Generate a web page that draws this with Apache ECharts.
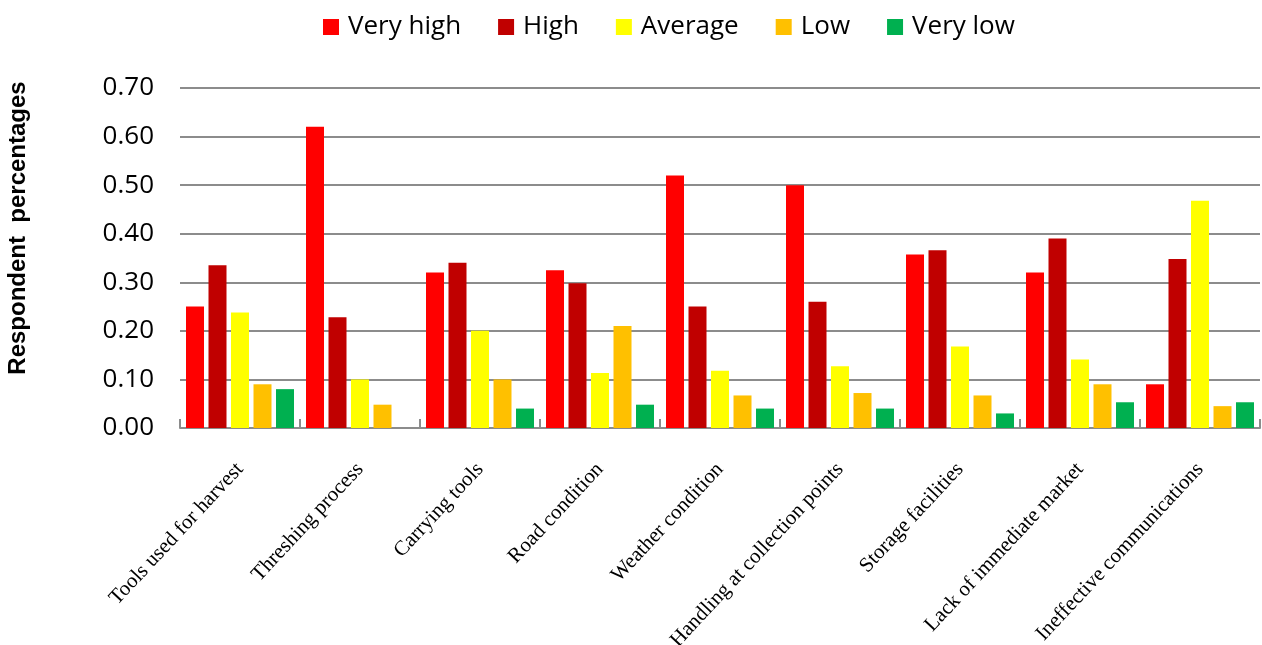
<!DOCTYPE html>
<html>
<head>
<meta charset="utf-8">
<script src="https://cdn.jsdelivr.net/npm/echarts@6/dist/echarts.min.js"></script>
<style>
  html, body { margin: 0; padding: 0; background: #fff; }
  #chart { width: 1262px; height: 645px; }
</style>
</head>
<body>
<div id="chart"></div>
<script>
// categories and ratings
const categories = [
  'Tools used for harvest', 'Threshing process', 'Carrying tools', 'Road condition',
  'Weather condition', 'Handling at collection points', 'Storage facilities',
  'Lack of immediate market', 'Ineffective communications'
]
const veryHigh = [0.25, 0.62, 0.32, 0.325, 0.52, 0.50, 0.357, 0.32, 0.09]
const high     = [0.335, 0.228, 0.34, 0.298, 0.25, 0.26, 0.366, 0.39, 0.348]
const average  = [0.238, 0.10, 0.20, 0.113, 0.118, 0.127, 0.168, 0.141, 0.468]
const low      = [0.09, 0.048, 0.10, 0.21, 0.067, 0.072, 0.067, 0.09, 0.045]
const veryLow  = [0.08, 0, 0.04, 0.048, 0.04, 0.04, 0.03, 0.053, 0.053]

const seriesNames = ['Very high', 'High', 'Average', 'Low', 'Very low']
const seriesColors = ['#ff0000', '#c00000', '#ffff00', '#ffc000', '#00b050']
const seriesData = [veryHigh, high, average, low, veryLow]

const chart = echarts.init(document.getElementById('chart'))

const option = {
  animation: false,
  legend: {
    top: 9,
    left: 318,
    itemWidth: 16,
    itemHeight: 16,
    itemGap: 37,
    icon: 'rect',
    textStyle: {
      fontFamily: 'Open Sans',
      fontSize: 26,
      color: '#000',
      padding: [0, 0, 0, 4]
    },
    data: seriesNames
  },
  grid: {
    left: 180,
    right: 2,
    top: 88,
    bottom: 217,
    outerBoundsMode: 'none'
  },
  xAxis: {
    type: 'category',
    data: categories,
    axisLine: { lineStyle: { color: '#8c8c8c', width: 2 } },
    axisTick: { show: true, inside: true, length: 9, interval: 0, lineStyle: { color: '#8c8c8c', width: 2 } },
    axisLabel: {
      interval: 0,
      rotate: 47,
      margin: 38,
      fontFamily: 'Liberation Serif',
      fontSize: 21,
      color: '#000'
    }
  },
  yAxis: {
    type: 'value',
    min: 0,
    max: 0.7,
    interval: 0.1,
    name: 'Respondent  percentages',
    nameLocation: 'middle',
    nameGap: 150,
    nameTextStyle: {
      fontFamily: 'Liberation Sans',
      fontSize: 24,
      fontWeight: 'bold',
      color: '#000',
      padding: [0, 0, 0, 60]
    },
    axisLine: { show: false },
    axisTick: { show: false },
    axisLabel: {
      margin: 26,
      fontFamily: 'Open Sans',
      fontSize: 26,
      color: '#000',
      formatter: v => v.toFixed(2)
    },
    splitLine: { lineStyle: { color: '#8c8c8c', width: 2 } }
  },
  series: seriesNames.map((name, i) => ({
    name: name,
    type: 'bar',
    data: seriesData[i],
    barGap: '25%',
    barCategoryGap: '10%',
    itemStyle: { color: seriesColors[i] }
  }))
}

chart.setOption(option)
</script>
</body>
</html>
